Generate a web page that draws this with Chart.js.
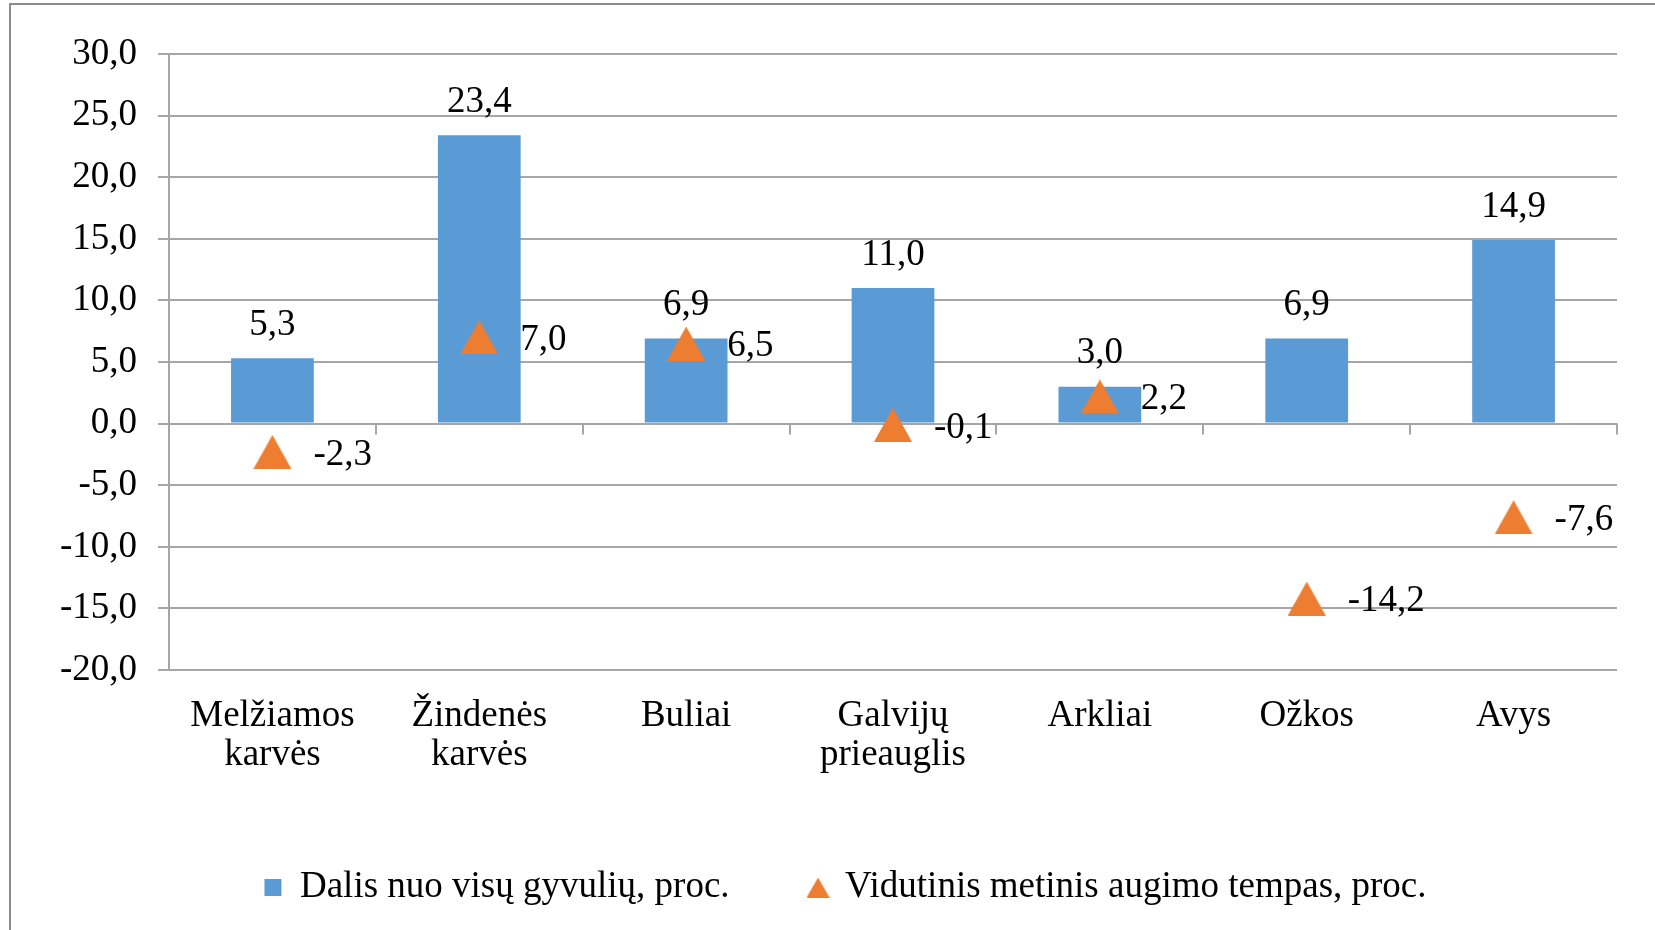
<!DOCTYPE html>
<html>
<head>
<meta charset="utf-8">
<script src="https://cdn.jsdelivr.net/npm/chart.js@4.4.0/dist/chart.umd.min.js"></script>
<style>
  html, body { margin: 0; padding: 0; background: #fff; overflow: hidden; }
  #wrap { position: relative; width: 1655px; height: 930px; overflow: hidden; }
  #frame { position: absolute; left: 9px; top: 3px; width: 1700px; height: 1000px; border: 2px solid #8c8c8c; }
  #chart { position: absolute; left: 0; top: 0; }
</style>
</head>
<body>
<div id="wrap">
  <div id="frame"></div>
  <canvas id="chart" width="1655" height="930"></canvas>
</div>
<script>
var kategorijos = [['Melžiamos', 'karvės'], ['Žindenės', 'karvės'], 'Buliai', ['Galvijų', 'prieauglis'], 'Arkliai', 'Ožkos', 'Avys'];
var dalis = [5.3, 23.4, 6.9, 11.0, 3.0, 6.9, 14.9];
var augimas = [-2.3, 7.0, 6.5, -0.1, 2.2, -14.2, -7.6];
var yTicks = [-20, -15, -10, -5, 0, 5, 10, 15, 20, 25, 30];
var serijos = ['Dalis nuo visų gyvulių, proc.', 'Vidutinis metinis augimo tempas, proc.'];

var MELYNA = '#5b9bd5';
var ORANZINE = '#ed7d31';
var TINKLAS = '#a6a6a6';
var SRIFTAS = '"Liberation Serif", "Times New Roman", serif';

function kablelis(v) {
    return Number(v).toFixed(1).replace('.', ',');
}

// trikampis kaip paveiksliukas, kad centras butu staciakampio viduryje
function trikampis(w, h) {
    var cv = document.createElement('canvas');
    cv.width = w;
    cv.height = h;
    var c = cv.getContext('2d');
    c.fillStyle = ORANZINE;
    c.beginPath();
    c.moveTo(w / 2, 0);
    c.lineTo(w, h);
    c.lineTo(0, h);
    c.closePath();
    c.fill();
    return cv;
}
var taskas = trikampis(38, 34);
var legendosTaskas = trikampis(23, 20);

var zymes = {
    id: 'zymes',
    afterLayout: function (chart) {
        // legenda Excel'yje truputi i desine
        chart.legend.left += 12;
        chart.legend.right += 12;
    },
    beforeDatasetsDraw: function (chart) {
        var ctx = chart.ctx, x = chart.scales.x, y = chart.scales.y;
        var y0 = y.getPixelForValue(0);
        ctx.save();
        ctx.strokeStyle = TINKLAS;
        ctx.lineWidth = 2;
        for (var i = 0; i <= kategorijos.length; i++) {
            var px = Math.round(x.getPixelForValue(i - 0.5));
            ctx.beginPath();
            ctx.moveTo(px, y0);
            ctx.lineTo(px, y0 + 11);
            ctx.stroke();
        }
        ctx.restore();
    },
    afterDatasetsDraw: function (chart) {
        var ctx = chart.ctx;
        ctx.save();
        ctx.font = '37px ' + SRIFTAS;
        ctx.fillStyle = '#000';
        ctx.textBaseline = 'middle';

        ctx.textAlign = 'center';
        chart.getDatasetMeta(0).data.forEach(function (el, i) {
            ctx.fillText(kablelis(dalis[i]), el.x, el.y - 33);
        });

        ctx.textAlign = 'left';
        chart.getDatasetMeta(1).data.forEach(function (el, i) {
            ctx.fillText(kablelis(augimas[i]), el.x + 41, el.y + 3);
        });
        ctx.restore();
    }
};

new Chart(document.getElementById('chart'), {
    type: 'bar',
    data: {
        labels: kategorijos,
        datasets: [
            {
                type: 'bar',
                label: serijos[0],
                data: dalis,
                backgroundColor: MELYNA,
                borderWidth: 0,
                barPercentage: 0.4,
                categoryPercentage: 1,
                order: 1
            },
            {
                type: 'line',
                label: serijos[1],
                data: augimas,
                showLine: false,
                pointStyle: taskas,
                pointRadius: 18,
                backgroundColor: ORANZINE,
                borderColor: ORANZINE,
                order: 0
            }
        ]
    },
    options: {
        responsive: false,
        animation: false,
        layout: { padding: { left: 50, right: 38, top: 54, bottom: 14 } },
        plugins: {
            tooltip: { enabled: false },
            legend: {
                position: 'bottom',
                labels: {
                    usePointStyle: true,
                    boxWidth: 17,
                    boxHeight: 17,
                    padding: 80,
                    color: '#000',
                    font: { family: SRIFTAS, size: 37 },
                    sort: function (a, b) { return a.datasetIndex - b.datasetIndex; },
                    generateLabels: function (chart) {
                        var items = Chart.defaults.plugins.legend.labels.generateLabels(chart);
                        items.forEach(function (it) {
                            it.pointStyle = it.datasetIndex === 1 ? legendosTaskas : 'rect';
                            it.fillStyle = it.datasetIndex === 1 ? ORANZINE : MELYNA;
                            it.strokeStyle = it.fillStyle;
                            it.lineWidth = 0;
                        });
                        return items;
                    }
                }
            }
        },
        scales: {
            x: {
                grid: { display: false, drawTicks: false },
                border: { display: false },
                ticks: {
                    color: '#000',
                    padding: 27,
                    maxRotation: 0,
                    font: { family: SRIFTAS, size: 37, lineHeight: 1.05 }
                },
                afterFit: function (scale) { scale.height = 119; }
            },
            y: {
                min: yTicks[0],
                max: yTicks[yTicks.length - 1],
                afterBuildTicks: function (scale) {
                    scale.ticks = yTicks.map(function (v) { return { value: v }; });
                },
                grid: { color: TINKLAS, lineWidth: 2, tickLength: 11, drawTicks: true },
                border: { display: true, color: TINKLAS, width: 2 },
                ticks: {
                    color: '#000',
                    padding: 21,
                    font: { family: SRIFTAS, size: 37 },
                    callback: function (v) { return kablelis(v); }
                },
                afterFit: function (scale) { scale.width = 119; }
            }
        }
    },
    plugins: [zymes]
});
</script>
</body>
</html>
